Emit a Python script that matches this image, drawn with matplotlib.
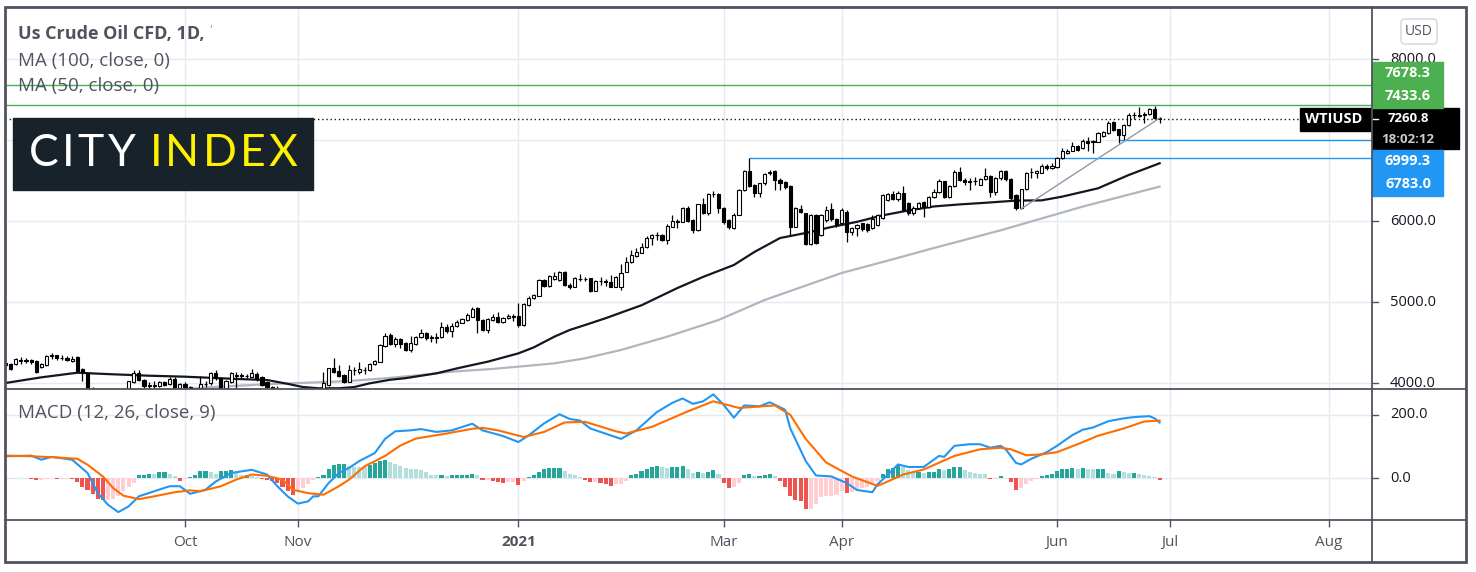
import numpy as np
import pandas as pd
import matplotlib.pyplot as plt
from matplotlib.patches import Rectangle, FancyBboxPatch

plt.rcParams['font.family'] = ['Open Sans', 'DejaVu Sans']

W, H = 1476, 572

# daily bars of the CFD (holidays without a bar dropped)
dates = pd.bdate_range('2020-08-13', '2021-06-29')
dates = dates.drop(pd.to_datetime(['2020-12-25', '2021-01-01', '2021-04-02']))

opens = [4250, 4235, 4230, 4270, 4280, 4285, 4270, 4200, 4220, 4330,
         4340, 4310, 4310, 4275, 4320, 4170, 4120, 3900, 3880, 3650,
         3790, 3720, 3720, 3730, 3830, 4015, 4120, 4040, 3960, 3965,
         3965, 4015, 3985, 4055, 3935, 3990, 3950, 3780, 3935, 3985,
         3996, 4127, 4058, 3934, 4016, 4090, 4095, 4085, 4080, 4111,
         4080, 4016, 3955, 3880, 3880, 3740, 3600, 3560, 3680, 3760,
         3870, 3850, 3750, 3975, 4181, 4148, 4100, 4016, 4160, 4140,
         4165, 4160, 4235, 4263, 4461, 4593, 4482, 4543, 4498, 4408,
         4482, 4564, 4613, 4560, 4560, 4564, 4696, 4646, 4700, 4745,
         4778, 4820, 4922, 4778, 4655, 4780, 4819, 4757, 4798, 4820,
         4832, 4716, 4963, 5050, 5075, 5272, 5198, 5280, 5272, 5367,
         5210, 5190, 5285, 5290, 5293, 5140, 5260, 5255, 5250, 5190,
         5190, 5375, 5490, 5573, 5610, 5676, 5787, 5825, 5828, 5766,
         5930, 5990, 5993, 6166, 6010, 5890, 6206, 6104, 6330, 6330,
         6157, 6010, 5910, 6080, 6380, 6618, 6445, 6343, 6466, 6590,
         6618, 6510, 6487, 6433, 5930, 6150, 6095, 5717, 6075, 5828,
         6013, 6150, 6030, 5970, 6116, 5860, 5910, 5970, 5960, 5910,
         5950, 6034, 6260, 6334, 6268, 6343, 6220, 6095, 6166, 6240,
         6175, 6300, 6363, 6490, 6300, 6433, 6610, 6507, 6485, 6490,
         6450, 6520, 6555, 6363, 6527, 6622, 6520, 6322, 6160, 6392,
         6605, 6597, 6597, 6680, 6650, 6672, 6775, 6840, 6870, 6927,
         6898, 6993, 6980, 6980, 7055, 7084, 7228, 7133, 7063, 7186,
         7305, 7300, 7310, 7320, 7380, 7275]
highs = [4270, 4250, 4310, 4320, 4310, 4300, 4280, 4250, 4345, 4370,
         4350, 4340, 4330, 4330, 4330, 4180, 4125, 3950, 3890, 3820,
         3850, 3780, 3790, 3860, 4030, 4160, 4160, 4050, 4010, 4020,
         4030, 4030, 4070, 4070, 4000, 4010, 3960, 3920, 4086, 4020,
         4140, 4160, 4070, 4040, 4130, 4140, 4120, 4115, 4170, 4130,
         4090, 4030, 3960, 3960, 3900, 3760, 3640, 3700, 3790, 3900,
         3905, 3880, 4130, 4190, 4305, 4222, 4110, 4222, 4200, 4255,
         4200, 4250, 4290, 4485, 4613, 4613, 4572, 4560, 4510, 4585,
         4580, 4663, 4630, 4593, 4613, 4757, 4728, 4737, 4778, 4800,
         4860, 4935, 4940, 4790, 4800, 4852, 4880, 4820, 4852, 4852,
         4984, 4984, 5070, 5100, 5285, 5285, 5330, 5375, 5383, 5383,
         5230, 5310, 5350, 5310, 5300, 5270, 5310, 5280, 5330, 5315,
         5465, 5560, 5643, 5663, 5733, 5810, 5845, 5870, 5845, 5960,
         6075, 6020, 6175, 6180, 6020, 6215, 6280, 6340, 6375, 6340,
         6170, 6020, 6095, 6400, 6630, 6783, 6455, 6475, 6595, 6625,
         6630, 6530, 6500, 6440, 6170, 6200, 6105, 6090, 6085, 6090,
         6180, 6227, 6040, 6157, 6130, 5925, 5960, 5980, 5975, 6075,
         6090, 6330, 6345, 6375, 6370, 6433, 6230, 6180, 6240, 6250,
         6310, 6400, 6520, 6500, 6445, 6625, 6670, 6530, 6530, 6540,
         6535, 6650, 6570, 6540, 6630, 6630, 6530, 6330, 6400, 6610,
         6650, 6630, 6700, 6710, 6715, 6790, 6900, 6885, 6970, 6940,
         7013, 7040, 7005, 7100, 7115, 7230, 7240, 7140, 7200, 7330,
         7350, 7410, 7350, 7392, 7420, 7285]
lows = [4200, 4160, 4220, 4240, 4250, 4240, 4120, 4190, 4215, 4300,
        4290, 4280, 4270, 4260, 4140, 4020, 3830, 3850, 3620, 3630,
        3680, 3670, 3660, 3710, 3820, 4000, 4020, 3940, 3930, 3940,
        3950, 3960, 3970, 3920, 3910, 3900, 3700, 3760, 3920, 3950,
        3980, 4040, 3920, 3925, 4000, 3940, 4060, 4060, 4070, 4030,
        3960, 3940, 3880, 3850, 3700, 3560, 3500, 3510, 3650, 3700,
        3780, 3700, 3720, 3965, 4120, 4078, 4000, 4010, 4100, 4110,
        4110, 4150, 4225, 4255, 4450, 4470, 4440, 4428, 4395, 4387,
        4470, 4550, 4531, 4510, 4490, 4555, 4621, 4572, 4690, 4735,
        4770, 4810, 4613, 4640, 4613, 4770, 4745, 4745, 4790, 4760,
        4695, 4700, 4950, 5035, 5070, 5180, 5185, 5270, 5260, 5200,
        5165, 5180, 5260, 5260, 5128, 5130, 5210, 5200, 5180, 5180,
        5150, 5365, 5480, 5560, 5600, 5665, 5700, 5765, 5750, 5717,
        5920, 5910, 5985, 5990, 5850, 5880, 6090, 6075, 6300, 6095,
        5960, 5900, 5900, 6075, 6370, 6420, 6300, 6300, 6440, 6570,
        6383, 6383, 6400, 5815, 5920, 6100, 5710, 5705, 5715, 5810,
        5990, 6000, 5930, 5960, 5745, 5830, 5815, 5880, 5870, 5900,
        5940, 6020, 6250, 6255, 6250, 6120, 6075, 6075, 6150, 6055,
        6165, 6290, 6350, 6290, 6290, 6420, 6490, 6445, 6383, 6440,
        6440, 6510, 6300, 6320, 6510, 6490, 6260, 6140, 6150, 6380,
        6530, 6530, 6590, 6630, 6640, 6660, 6765, 6830, 6860, 6860,
        6885, 6870, 6835, 6970, 7040, 7075, 7110, 6960, 7000, 7175,
        7260, 7285, 7215, 7310, 7260, 7215]
closes = [4220, 4170, 4296, 4285, 4275, 4260, 4130, 4240, 4330, 4340,
          4310, 4305, 4290, 4300, 4150, 4130, 3850, 3880, 3650, 3790,
          3720, 3720, 3730, 3830, 4020, 4120, 4040, 3960, 3970, 3975,
          4015, 3980, 4045, 3940, 3985, 3950, 3780, 3910, 3988, 3990,
          4119, 4058, 3934, 4029, 4119, 4100, 4090, 4090, 4119, 4045,
          3975, 3955, 3900, 3920, 3740, 3600, 3560, 3680, 3760, 3870,
          3850, 3720, 3995, 4181, 4140, 4090, 4016, 4160, 4165, 4173,
          4160, 4235, 4272, 4470, 4585, 4482, 4543, 4482, 4408, 4490,
          4564, 4613, 4552, 4564, 4572, 4687, 4646, 4708, 4757, 4786,
          4840, 4910, 4778, 4655, 4790, 4819, 4757, 4798, 4827, 4827,
          4716, 4976, 5054, 5087, 5272, 5198, 5322, 5322, 5367, 5210,
          5180, 5293, 5290, 5285, 5140, 5264, 5265, 5250, 5190, 5305,
          5354, 5490, 5581, 5622, 5684, 5795, 5828, 5830, 5766, 5943,
          6000, 5995, 6166, 6005, 5890, 6206, 6104, 6330, 6335, 6157,
          5993, 5920, 6080, 6384, 6618, 6437, 6343, 6466, 6580, 6610,
          6507, 6474, 6425, 5930, 6157, 6116, 5717, 6075, 5725, 6075,
          6137, 6021, 5950, 6137, 5870, 5910, 5950, 5900, 5890, 6030,
          6075, 6322, 6330, 6268, 6350, 6137, 6095, 6166, 6227, 6170,
          6300, 6363, 6490, 6300, 6433, 6610, 6507, 6480, 6490, 6495,
          6520, 6550, 6363, 6527, 6622, 6515, 6280, 6157, 6392, 6597,
          6610, 6620, 6680, 6650, 6680, 6775, 6870, 6870, 6927, 6880,
          6993, 6960, 6985, 7084, 7100, 7215, 7125, 7063, 7186, 7310,
          7310, 7310, 7322, 7380, 7270, 7260.8]

# moving averages (bar index, value)
ma50_idx = [0, 7, 14, 20, 28, 35, 45, 51, 55, 58, 61, 65, 68, 71, 75, 78, 84, 88, 91, 94,
            100, 103, 107, 110, 113, 117, 120, 124, 131, 136, 142, 146, 151, 156, 161, 166,
            171, 176, 181, 186, 191, 197, 202, 206, 213, 219, 225]
ma50_val = [4000, 4070, 4127, 4110, 4090, 4078, 4050, 4037, 3990, 3950, 3935, 3935, 3950,
            3996, 4040, 4060, 4119, 4180, 4222, 4263, 4366, 4440, 4572, 4655, 4716, 4800,
            4869, 4960, 5173, 5310, 5457, 5618, 5790, 5852, 5926, 5990, 6070, 6130, 6180,
            6205, 6225, 6252, 6255, 6301, 6404, 6569, 6713]
ma100_idx = [0, 10, 20, 30, 38, 52, 64, 68, 74, 81, 87, 94, 100, 107, 113, 120, 129, 139,
             148, 163, 174, 180, 194, 210, 225]
ma100_val = [3560, 3680, 3780, 3880, 3942, 3988, 4016, 4029, 4058, 4099, 4140, 4169, 4202,
             4243, 4305, 4408, 4572, 4778, 5025, 5358, 5545, 5650, 5885, 6178, 6425]

# MACD (12, 26, close, 9)
macd_idx = [0, 3, 5, 7, 9, 13, 16, 18, 20, 22, 24, 26, 29, 32, 34, 36, 39, 41, 44, 48, 51,
            53, 55, 57, 59, 60, 61, 63, 65, 67, 69, 72, 74, 76, 79, 81, 84, 87, 91, 93, 97,
            100, 102, 105, 108, 110, 112, 114, 118, 120, 123, 127, 130, 132, 134, 136, 138,
            140, 142, 144, 147, 149, 152, 153, 156, 158, 161, 164, 166, 169, 170, 172, 174,
            176, 179, 182, 183, 185, 188, 190, 192, 194, 195, 197, 198, 200, 203, 205, 208,
            210, 212, 215, 218, 220, 223, 224, 225]
macd_val = [69, 70, 71, 58, 67, 58, 16, -48, -85, -108, -90, -58, -42, -26, -26, -50, -37,
            -11, 16, 26, 11, -26, -58, -81, -74, -58, -58, -16, 16, 32, 54, 79, 124, 148,
            151, 155, 146, 151, 172, 151, 133, 114, 135, 173, 202, 187, 182, 157, 135, 124,
            151, 209, 238, 252, 235, 243, 265, 232, 191, 230, 227, 240, 216, 157, 54, 8, 5,
            -16, -38, -45, -20, 10, 43, 35, 35, 70, 67, 102, 107, 107, 96, 102, 91, 48, 43,
            61, 82, 102, 136, 153, 160, 180, 189, 193, 196, 189, 176]
signal_idx = [0, 5, 9, 14, 16, 19, 21, 23, 26, 29, 33, 36, 38, 42, 45, 48, 51, 54, 56, 59,
              62, 65, 67, 70, 74, 77, 80, 83, 86, 91, 93, 96, 101, 105, 109, 113, 119, 121,
              126, 133, 138, 143, 150, 153, 156, 160, 165, 170, 172, 175, 179, 185, 190, 194,
              196, 199, 202, 205, 209, 213, 218, 222, 225]
signal_val = [71, 69, 66, 61, 42, 5, -32, -56, -67, -58, -45, -39, -42, -26, -5, 11, 7, -5,
              -37, -48, -53, -26, -5, 37, 70, 103, 125, 133, 141, 156, 159, 151, 130, 146,
              176, 178, 148, 141, 162, 211, 243, 222, 230, 200, 124, 49, 5, -25, -11, 11, 27,
              70, 91, 96, 91, 72, 75, 82, 107, 134, 157, 179, 182]
hist = [-4, -4, 1, 1, 1, -2, -7, -7, -2, -1,
        -3, -3, -3, -4, -14, -27, -39, -50, -67, -71,
        -71, -65, -58, -42, -27, -16, 10, 10, 14, 13,
        18, 18, 13, 5, -8, -2, 3, 10, 23, 23,
        19, 13, 23, 23, 24, 16, 10, 10, 5, 2,
        -4, -6, -10, -16, -27, -42, -53, -42, -32, -18,
        -5, 2, 10, 29, 42, 43, 44, 38, 36, 35,
        34, 40, 47, 55, 58, 52, 45, 38, 32, 29,
        27, 25, 18, 11, 9, 11, 7, 8, 9, 10,
        11, 14, 8, -6, -6, -10, -13, -16, -14, -12,
        -22, -8, 3, 10, 20, 27, 32, 32, 32, 22,
        12, 8, 4, -5, -14, -14, -17, -19, -25, -20,
        -18, -8, 8, 13, 22, 30, 35, 37, 35, 32,
        35, 35, 38, 28, 15, 18, 16, 20, 24, 12,
        -15, -32, -30, -15, 8, 12, 5, 5, 8, 12,
        5, -8, -30, -56, -70, -72, -97, -97, -82, -60,
        -57, -57, -55, -40, -46, -45, -35, -32, -28, -20,
        -10, 13, 27, 32, 40, 35, 25, 18, 18, 15,
        18, 20, 29, 25, 29, 35, 35, 25, 18, 16,
        14, 13, -2, -2, 7, 1, -14, -37, -32, -18,
        -9, -3, 7, 10, 14, 21, 27, 30, 32, 29,
        33, 29, 27, 27, 29, 16, 14, 21, 20, 16,
        16, 13, 11, 5, 2, -7]

# drawn levels
green_levels = [7678.3, 7433.6]
blue_levels = [6999.3, 6783.0]
blue_start = [217, 145]
trend_idx = [198, 225]
trend_val = [6150, 7270]

price_ticks = [4000, 5000, 6000, 7000, 8000]
macd_ticks = [0, 200]
tick_months = ['2020-10', '2020-11', '2021-01', '2021-03', '2021-04', '2021-06', '2021-07', '2021-08']

text_c = '#50535e'
grid_c = '#e3eaf1'
green = '#4caf50'
blue = '#2196f3'
frame_c = '#50535e'

# bar positions, future continues by calendar day
n = len(closes)
x = np.arange(n)
future = pd.date_range(dates[-1] + pd.Timedelta(days=1), '2021-08-31', freq='D')
all_dates = dates.append(future)
tick_pos, tick_lab = [], []
for m in tick_months:
    p = int(np.argmax(all_dates.strftime('%Y-%m') == m))
    tick_pos.append(p)
    d = all_dates[p]
    tick_lab.append(str(d.year) if d.month == 1 else d.strftime('%b'))

o = np.array(opens, float)
h = np.array(highs, float)
l = np.array(lows, float)
c = np.array(closes, float)

fig = plt.figure(figsize=(W / 100, H / 100), dpi=100)


def rect(x0, y0, x1, y1):
    return [x0 / W, 1 - y1 / H, (x1 - x0) / W, (y1 - y0) / H]


ax = fig.add_axes(rect(5, 8, 1372, 389))
ax2 = fig.add_axes(rect(5, 389, 1372, 520))
xmin, xmax = -0.09, 266.4

# ---- price pane
ax.vlines(x, l, h, color='black', lw=0.9, zorder=3)
up = c >= o
ax.bar(x, np.maximum(np.abs(c - o), 5), bottom=np.minimum(o, c), width=0.62,
       color=np.where(up, 'white', 'black'), edgecolor='black', linewidth=0.8, zorder=4)
ax.plot(ma100_idx, ma100_val, color='#b2b5be', lw=1.6, zorder=2)
ax.plot(ma50_idx, ma50_val, color='#131722', lw=1.6, zorder=2)
for v in green_levels:
    ax.axhline(v, color=green, lw=1, zorder=2)
for v, s in zip(blue_levels, blue_start):
    ax.hlines(v, s, xmax, color=blue, lw=1, zorder=2)
ax.plot(trend_idx, trend_val, color='#9598a1', lw=1, zorder=5)
ax.axhline(c[-1], color='#131722', lw=1, ls=(0, (1, 2)), zorder=2)

ax.set_xlim(xmin, xmax)
ax.set_ylim(3926, 8630)
ax.set_yticks(price_ticks)
ax.set_xticks(tick_pos)
ax.grid(color=grid_c, lw=1, zorder=0)
ax.set_axisbelow(True)
ax.tick_params(length=0, labelleft=False, labelbottom=False)
for s in ax.spines.values():
    s.set_visible(False)

# ---- MACD pane
diff = np.diff(np.array(hist, float), prepend=hist[0])
hist_col = [('#26a69a' if d >= 0 else '#b2dfdb') if v >= 0 else ('#ef5350' if d < 0 else '#ffcdd2')
            for v, d in zip(hist, diff)]
ax2.bar(x, hist, width=0.8, color=hist_col, zorder=2)
ax2.plot(macd_idx, macd_val, color='#2196f3', lw=1.5, zorder=3)
ax2.plot(signal_idx, signal_val, color='#ff6d00', lw=1.5, zorder=3)
ax2.set_xlim(xmin, xmax)
ax2.set_ylim(-133, 282)
ax2.set_yticks(macd_ticks)
ax2.set_xticks(tick_pos)
ax2.set_xticklabels(tick_lab)
ax2.grid(color=grid_c, lw=1, zorder=0)
ax2.set_axisbelow(True)
ax2.tick_params(axis='y', length=0, labelleft=False)
ax2.tick_params(axis='x', length=5, width=1, color=frame_c, pad=6, labelsize=11, labelcolor=text_c)
for t in ax2.get_xticklabels():
    if t.get_text() == '2021':
        t.set_fontweight('bold')
for s in ax2.spines.values():
    s.set_visible(False)

# ---- overlay in pixel coordinates (frame, price scale, labels, logo)
ov = fig.add_axes([0, 0, 1, 1], zorder=10)
ov.set_xlim(0, W)
ov.set_ylim(H, 0)
ov.axis('off')


def ypx(a, v):
    return H - a.transData.transform((0, v))[1]


# price labels, stacked away from the current price label
yc = ypx(ax, c[-1])
bh = 23
boxes = [(yc - 11, yc + 30)]
ov.add_patch(Rectangle((1300, yc - 11), 72, 23, color='black', zorder=5))
ov.add_patch(Rectangle((1372, yc - 11), 87, 41, color='black', zorder=5))
ov.text(1334, yc, 'WTIUSD', color='white', fontsize=10.5, fontweight='bold', ha='center', va='center', zorder=6)
ov.text(1408, yc - 0.5, f'{c[-1]:.1f}', color='white', fontsize=9.5, fontweight='bold', ha='center', va='center', zorder=6)
ov.text(1408, yc + 20.5, '18:02:12', color='#c9cbd1', fontsize=9.5, fontweight='bold', ha='center', va='center', zorder=6)
ov.plot([1373, 1378], [yc, yc], color='white', lw=1, zorder=6)

edge = yc - 11
for v in sorted(green_levels):
    y0 = min(ypx(ax, v), edge - bh / 2)
    edge = y0 - bh / 2
    boxes.append((y0 - bh / 2, y0 + bh / 2))
    ov.add_patch(Rectangle((1372, y0 - bh / 2), 71, bh, color=green, zorder=5))
    ov.text(1408, y0, f'{v:.1f}', color='white', fontsize=10.5, fontweight='bold', ha='center', va='center', zorder=6)
edge = yc + 31
for v in sorted(blue_levels, reverse=True):
    y0 = max(ypx(ax, v), edge + bh / 2)
    edge = y0 + bh / 2
    boxes.append((y0 - bh / 2, y0 + bh / 2))
    ov.add_patch(Rectangle((1372, y0 - bh / 2), 71, bh, color=blue, zorder=5))
    ov.text(1408, y0, f'{v:.1f}', color='white', fontsize=10.5, fontweight='bold', ha='center', va='center', zorder=6)

# price scale: labels hidden where a label box covers them
for v in price_ticks:
    yy = ypx(ax, v)
    ov.plot([1372, 1378], [yy, yy], color=frame_c, lw=1)
    if not any(t - 2 <= yy <= b + 2 for t, b in boxes):
        ov.text(1390, yy, f'{v:.1f}', fontsize=10.5, color='#131722', va='center', ha='left')
for v in macd_ticks:
    yy = ypx(ax2, v)
    ov.plot([1372, 1378], [yy, yy], color=frame_c, lw=1)
    ov.text(1390, yy, f'{v:.1f}', fontsize=10.5, color='#131722', va='center', ha='left')

# frame
ov.add_patch(Rectangle((5, 7), 1461, 555, fill=False, edgecolor=frame_c, lw=2, zorder=7))
ov.plot([1372, 1372], [7, 562], color=frame_c, lw=1.3, zorder=7)
ov.plot([5, 1466], [389, 389], color=frame_c, lw=1.3, zorder=7)
ov.plot([5, 1466], [520, 520], color=frame_c, lw=1.3, zorder=7)

# USD button
ov.add_patch(FancyBboxPatch((1401, 19), 36, 25, boxstyle='round,pad=0,rounding_size=4',
                            facecolor='white', edgecolor='#d1d4dc', lw=1, zorder=6))
ov.text(1419, 31.5, 'USD', fontsize=10, color=text_c, ha='center', va='center', zorder=7)

# legend texts
ov.text(18, 34, 'Us Crude Oil CFD, 1D,', fontsize=13, fontweight='bold', color=text_c, va='center')
ov.text(209, 31, "'", fontsize=9, color='#9598a1', va='center')
ov.text(18, 61, 'MA (100, close, 0)', fontsize=13.5, color=text_c, va='center')
ov.text(18, 86, 'MA (50, close, 0)', fontsize=13.5, color=text_c, va='center')
ov.text(18, 413, 'MACD (12, 26, close, 9)', fontsize=13.5, color=text_c, va='center')

# logo, letter by letter
ov.add_patch(Rectangle((13, 118), 300, 72, color='#18222b', zorder=6))
logo_letters = ['C', 'I', 'T', 'Y', 'I', 'N', 'D', 'E', 'X']
logo_x = [44, 68.5, 90, 121.5, 156, 182, 220, 253, 282.5]
for i, (ch, lx) in enumerate(zip(logo_letters, logo_x)):
    ov.text(lx, 153.5, ch, fontsize=32, color='white' if i < 4 else '#fff200',
            family=['Lato', 'DejaVu Sans'], ha='center', va='center', zorder=7)

fig.savefig('out.png', dpi=100, facecolor='white')
